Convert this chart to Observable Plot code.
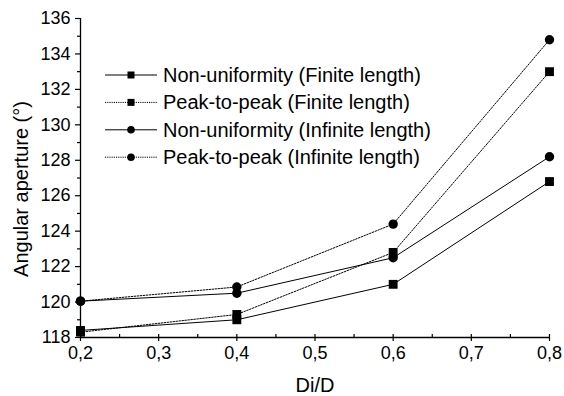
<!DOCTYPE html>
<html>
<head>
<meta charset="utf-8">
<script src="https://cdn.jsdelivr.net/npm/d3@7"></script>
<script src="https://cdn.jsdelivr.net/npm/@observablehq/plot@0.6"></script>
<style>
  html, body { margin: 0; padding: 0; background: #fff; }
  #chart { width: 564px; height: 396px; }
  svg { font-family: "Liberation Sans", Arial, sans-serif; }
</style>
</head>
<body>
<div id="chart"></div>
<script>
const ratios = [0.2, 0.4, 0.6, 0.8];
const nonUniformFinite = [118.4, 119.0, 121.0, 126.8];
const peakFinite = [118.3, 119.3, 122.8, 133.0];
const nonUniformInfinite = [120.05, 120.5, 122.5, 128.2];
const peakInfinite = [120.05, 120.85, 124.4, 134.8];
const seriesNames = [
  "Non-uniformity (Finite length)",
  "Peak-to-peak (Finite length)",
  "Non-uniformity (Infinite length)",
  "Peak-to-peak (Infinite length)"
];
const seriesValues = [nonUniformFinite, peakFinite, nonUniformInfinite, peakInfinite];
const seriesSymbols = ["square", "square", "circle", "circle"];
const seriesDashed = [false, true, false, true];
const xMajorTicks = [0.2, 0.3, 0.4, 0.5, 0.6, 0.7, 0.8];
const xMinorTicks = [0.25, 0.35, 0.45, 0.55, 0.65, 0.75];
const yMajorTicks = [118, 120, 122, 124, 126, 128, 130, 132, 134, 136];
const yMinorTicks = [119, 121, 123, 125, 127, 129, 131, 133, 135];

const rows = [];
seriesNames.forEach((name, s) => {
  ratios.forEach((r, i) => rows.push({series: name, s, x: r, y: seriesValues[s][i]}));
});

const fmt = d => d.toFixed(1).replace(".", ",");
const marks = [];
seriesNames.forEach((name, s) => {
  const data = rows.filter(d => d.s === s);
  marks.push(Plot.line(data, {
    x: "x", y: "y", stroke: "#000", strokeWidth: 1,
    strokeDasharray: seriesDashed[s] ? "1.6,1.4" : null
  }));
});
seriesNames.forEach((name, s) => {
  const data = rows.filter(d => d.s === s);
  marks.push(Plot.dot(data, {
    x: "x", y: "y", symbol: () => seriesSymbols[s], fill: "#000", stroke: "none",
    r: seriesSymbols[s] === "square" ? 5 : 4.7
  }));
});

const chart = Plot.plot({
  width: 564,
  height: 396,
  marginLeft: 80,
  marginRight: 15,
  marginTop: 18,
  marginBottom: 59,
  style: {fontFamily: "'Liberation Sans', Arial, sans-serif", fontSize: "18px", color: "#000", background: "#fff"},
  x: {domain: [0.2, 0.8]},
  y: {domain: [118, 136]},
  symbol: {type: "identity"},
  marks: [
    Plot.axisY({ticks: yMajorTicks, tickSize: 5, tickPadding: 5, tickFormat: d => d, label: null, fontSize: 18, strokeWidth: 1.2}),
    Plot.axisY({ticks: yMinorTicks, tickSize: 3, tickFormat: () => "", label: null, strokeWidth: 1.2}),
    Plot.axisX({ticks: xMajorTicks, tickSize: 4, tickPadding: 5, tickFormat: fmt, label: null, fontSize: 18, strokeWidth: 1.2}),
    Plot.axisX({ticks: xMajorTicks, tickSize: -3, tickFormat: () => "", label: null, strokeWidth: 1.2}),
    Plot.axisX({ticks: xMinorTicks, tickSize: -3, tickFormat: () => "", label: null, strokeWidth: 1.2}),
    Plot.ruleX([0.2], {stroke: "#000", strokeWidth: 1.3}),
    Plot.ruleY([118], {stroke: "#000", strokeWidth: 1.3}),
    ...marks
  ]
});

const svg = d3.select(chart);
const FONT = "'Liberation Sans', Arial, sans-serif";
svg.selectAll("text").attr("font-size", 18).attr("font-family", FONT).attr("fill", "#000");

// axis titles
svg.append("text")
  .attr("transform", "translate(21,189) rotate(-90)")
  .attr("text-anchor", "middle")
  .attr("dominant-baseline", "central")
  .attr("font-family", FONT)
  .attr("font-size", 20)
  .attr("fill", "#000")
  .text("Angular aperture (°)");
svg.append("text")
  .attr("x", 315).attr("y", 385)
  .attr("text-anchor", "middle")
  .attr("dominant-baseline", "central")
  .attr("font-family", FONT)
  .attr("font-size", 20)
  .attr("fill", "#000")
  .text("Di/D");

// legend
const lg = svg.append("g");
seriesNames.forEach((name, s) => {
  const cy = 75 + s * 27.4;
  lg.append("line").attr("x1", 105).attr("x2", 157).attr("y1", cy).attr("y2", cy)
    .attr("stroke", "#000").attr("stroke-width", 1)
    .attr("stroke-dasharray", seriesDashed[s] ? "1.2,1" : null);
  if (seriesSymbols[s] === "square") {
    lg.append("rect").attr("x", 131 - 3.5).attr("y", cy - 3.5).attr("width", 7).attr("height", 7).attr("fill", "#000");
  } else {
    lg.append("circle").attr("cx", 131).attr("cy", cy).attr("r", 3.8).attr("fill", "#000");
  }
  lg.append("text").attr("x", 163).attr("y", cy)
    .attr("text-anchor", "start")
    .attr("dominant-baseline", "central")
    .attr("font-family", FONT)
    .attr("font-size", 20).attr("fill", "#000")
    .text(name);
});

document.getElementById("chart").appendChild(chart);
</script>
</body>
</html>
